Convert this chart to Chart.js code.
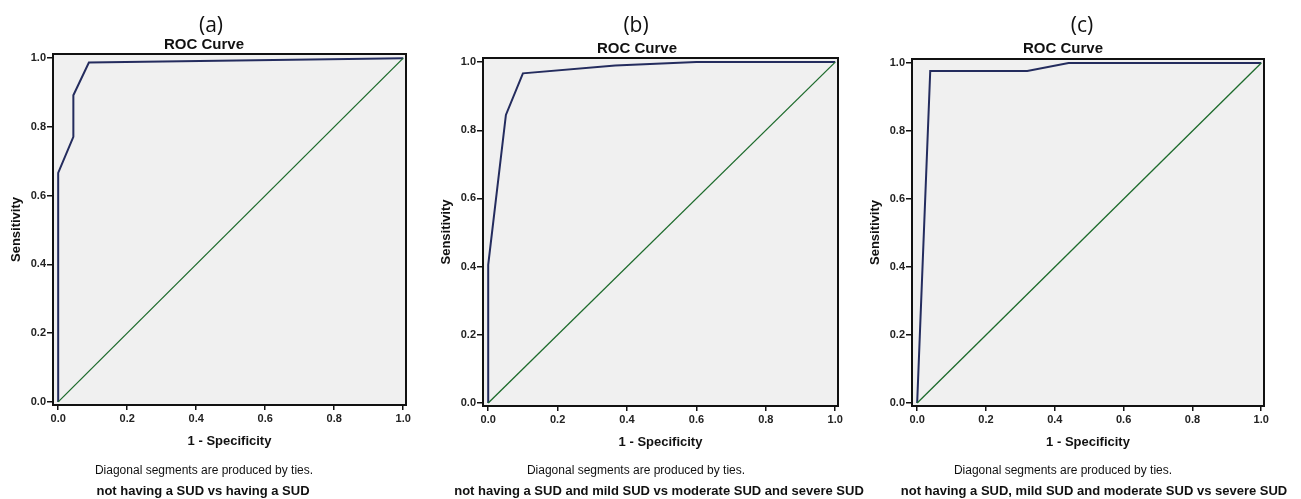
<!DOCTYPE html>
<html>
<head>
<meta charset="utf-8">
<script src="https://cdn.jsdelivr.net/npm/chart.js@4.4.1/dist/chart.umd.min.js"></script>
<style>
  html, body { margin: 0; padding: 0; background: #ffffff; }
  #wrap { position: relative; width: 1301px; height: 499px; overflow: hidden; font-family: "Liberation Sans", Arial, sans-serif; color: #111; }
  canvas { position: absolute; top: 0; }
  .lbl { position: absolute; transform: translate(-50%, -50%); white-space: nowrap; line-height: 1; }
  .panel { font-family: "Open Sans", "Liberation Sans", sans-serif; font-size: 21px; font-weight: 400; }
  .roc { font-size: 15px; font-weight: 700; }
  .diag { font-size: 12px; font-weight: 400; }
  .cmp { font-size: 13px; font-weight: 700; }
</style>
</head>
<body>
<div id="wrap">
  <canvas id="cA" width="430" height="499" style="left:0px"></canvas>
  <canvas id="cB" width="430" height="499" style="left:430px"></canvas>
  <canvas id="cC" width="441" height="499" style="left:860px"></canvas>

  <div class="lbl panel" style="left:211px;top:24px">(a)</div>
  <div class="lbl roc" style="left:204px;top:43px">ROC Curve</div>
  <div class="lbl diag" style="left:204px;top:470px">Diagonal segments are produced by ties.</div>
  <div class="lbl cmp" style="left:203px;top:490px">not having a SUD vs having a SUD</div>

  <div class="lbl panel" style="left:636px;top:24px">(b)</div>
  <div class="lbl roc" style="left:637px;top:47px">ROC Curve</div>
  <div class="lbl diag" style="left:636px;top:470px">Diagonal segments are produced by ties.</div>
  <div class="lbl cmp" style="left:659px;top:490px">not having a SUD and mild SUD vs moderate SUD and severe SUD</div>

  <div class="lbl panel" style="left:1082px;top:24px">(c)</div>
  <div class="lbl roc" style="left:1063px;top:47px">ROC Curve</div>
  <div class="lbl diag" style="left:1063px;top:470px">Diagonal segments are produced by ties.</div>
  <div class="lbl cmp" style="left:1094px;top:490px">not having a SUD, mild SUD and moderate SUD vs severe SUD</div>
</div>
<script>
// ---- data ----
const tickValues = [0, 0.2, 0.4, 0.6, 0.8, 1.0];
const refFpr = [0, 1];
const refTpr = [0, 1];

const fprA = [0, 0, 0.044, 0.044, 0.089, 1];
const tprA = [0, 0.666, 0.771, 0.892, 0.987, 1];

const fprB = [0, 0, 0.051, 0.100, 0.366, 0.600, 1];
const tprB = [0, 0.405, 0.845, 0.967, 0.990, 1.000, 1];

const fprC = [0, 0.038, 0.320, 0.440, 1];
const tprC = [0, 0.977, 0.977, 1.000, 1];

const xTitle = '1 - Specificity';
const yTitle = 'Sensitivity';

// ---- helpers ----
function pts(xs, ys) { return xs.map((x, i) => ({ x: x, y: ys[i] })); }

const framePlugin = {
  id: 'frame',
  beforeDraw(chart) {
    const a = chart.chartArea, c = chart.ctx;
    c.save();
    c.fillStyle = '#f0f0f0';
    c.fillRect(a.left, a.top, a.right - a.left, a.bottom - a.top);
    c.restore();
  },
  afterDatasetsDraw(chart) {
    const a = chart.chartArea, c = chart.ctx;
    c.save();
    c.strokeStyle = '#111111';
    c.lineWidth = 2;
    c.strokeRect(a.left, a.top, a.right - a.left, a.bottom - a.top);
    c.restore();
  }
};

const tickFont = { family: '"Liberation Sans", Arial, sans-serif', size: 11, weight: 'bold' };
const titleFont = { family: '"Liberation Sans", Arial, sans-serif', size: 13, weight: 'bold' };

function makeChart(id, fpr, tpr, pad) {
  return new Chart(document.getElementById(id), {
    type: 'scatter',
    data: {
      datasets: [
        { data: pts(refFpr, refTpr), showLine: true, borderColor: '#1d6b2c', borderWidth: 1.3, pointRadius: 0, fill: false },
        { data: pts(fpr, tpr), showLine: true, borderColor: '#242c5e', borderWidth: 2, pointRadius: 0, fill: false, tension: 0 }
      ]
    },
    options: {
      responsive: false,
      animation: false,
      events: [],
      layout: { padding: pad },
      plugins: { legend: { display: false }, tooltip: { enabled: false }, title: { display: false } },
      scales: {
        x: {
          type: 'linear', min: -0.015, max: 1.008,
          afterBuildTicks: s => { s.ticks = tickValues.map(v => ({ value: v })); },
          afterFit: s => { s.height = 52; },
          border: { display: false },
          grid: { drawOnChartArea: false, drawTicks: true, tickLength: 5, color: '#111', lineWidth: 1.5 },
          ticks: { font: tickFont, color: '#222', padding: 2, maxRotation: 0, callback: v => Number(v).toFixed(1) },
          title: { display: true, text: xTitle, font: titleFont, color: '#111', padding: { top: 0, bottom: 7.5 } }
        },
        y: {
          type: 'linear', min: -0.009, max: 1.012,
          afterBuildTicks: s => { s.ticks = tickValues.map(v => ({ value: v })); },
          afterFit: s => { s.width = 44; },
          border: { display: false },
          grid: { drawOnChartArea: false, drawTicks: true, tickLength: 6, color: '#111', lineWidth: 1.5 },
          ticks: { font: tickFont, color: '#222', padding: 1, callback: v => Number(v).toFixed(1) },
          title: { display: true, text: yTitle, font: titleFont, color: '#111', padding: { top: 0, bottom: 0 } }
        }
      }
    },
    plugins: [framePlugin]
  });
}

makeChart('cA', fprA, tprA, { left: 9, top: 54, right: 24, bottom: 42 });
makeChart('cB', fprB, tprB, { left: 9, top: 58, right: 22, bottom: 41 });
makeChart('cC', fprC, tprC, { left: 8, top: 59, right: 37, bottom: 41 });
</script>
</body>
</html>
